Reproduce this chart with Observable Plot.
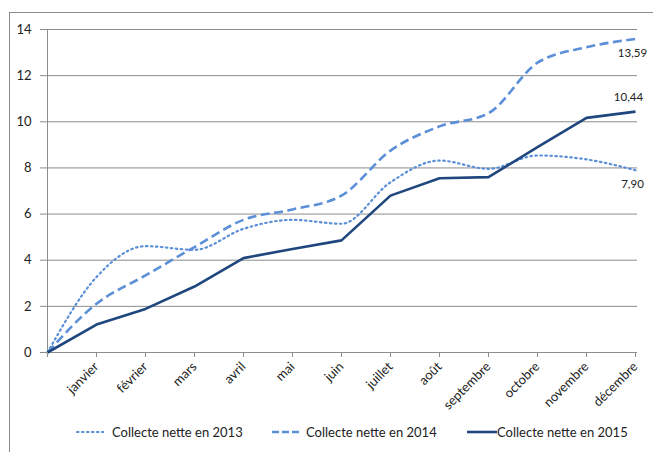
<!DOCTYPE html>
<html><head><meta charset="utf-8">
<script src="https://cdn.jsdelivr.net/npm/d3@7"></script>
<script src="https://cdn.jsdelivr.net/npm/@observablehq/plot@0.6"></script>
<style>
body{margin:0;background:#fff;font-family:Lato,"Open Sans",sans-serif;}
#wrap{position:relative;width:653px;height:452px;overflow:hidden;}
#frame{position:absolute;left:9px;top:12px;width:700px;height:500px;border-left:1px solid #8c8c8c;border-top:1px solid #8c8c8c;}
#chart{position:absolute;left:0;top:0;}
#legend{position:absolute;top:424px;left:0;width:653px;font-size:13px;color:#222;}
.item{position:absolute;display:flex;align-items:center;white-space:nowrap;}
</style></head>
<body>
<div id="wrap"><div id="frame"></div><div id="chart"></div><div id="legend"></div></div>
<script>
const months = ["", "janvier", "février", "mars", "avril", "mai", "juin", "juillet", "août", "septembre", "octobre", "novembre", "décembre"];
const s2013 = [0, 3.27, 4.61, 4.45, 5.36, 5.75, 5.58, 7.38, 8.32, 7.96, 8.54, 8.37, 7.90];
const s2014 = [0, 2.11, 3.34, 4.57, 5.75, 6.20, 6.80, 8.75, 9.80, 10.37, 12.56, 13.23, 13.59];
const s2015 = [0, 1.21, 1.89, 2.86, 4.09, 4.49, 4.86, 6.80, 7.55, 7.60, 8.90, 10.17, 10.44];
const seriesNames = ["Collecte nette en 2013", "Collecte nette en 2014", "Collecte nette en 2015"];
const yTicks = [0, 2, 4, 6, 8, 10, 12, 14];

const styles = [
  {stroke:"#5b8fd8", dash:"1.5,3.5", legendDash:"1.5,3.5", width:2.2, curve:"monotone-x", cap:"round"},
  {stroke:"#5b8fd8", dash:"9,4.5", legendDash:"7,3", width:2.6, curve:"monotone-x", cap:"butt"},
  {stroke:"#1f477e", dash:null, legendDash:null, width:2.6, curve:"linear", cap:"butt"}
];
const allSeries = [s2013, s2014, s2015];
const rows = allSeries.map((vals, k) => vals.map((v, i) => ({month: months[i], value: v, series: seriesNames[k]})));
const fmt = v => d3.format(".2f")(v).replace(".", ",");
const endLabels = allSeries.map((vals, k) => ({month: months[12], value: vals[12], series: seriesNames[k]}));
const labelDy = [14, 14, -14];

const fontFam = "Lato, 'Open Sans', sans-serif";
const marks = [
  Plot.ruleY(yTicks, {y: d => d, stroke: "#8c8c8c", strokeWidth: 1}),
  Plot.ruleX([months[0]], {x: d => d, y1: 0, y2: 14, stroke: "#8c8c8c"}),
  Plot.ruleY([0], {stroke: "#8c8c8c"}),
  ...rows.map((r, k) => Plot.line(r, {x: "month", y: "value", stroke: styles[k].stroke, strokeWidth: styles[k].width, strokeDasharray: styles[k].dash, strokeLinecap: styles[k].cap, curve: styles[k].curve})),
  ...endLabels.map((d, k) => Plot.text([d], {x: "month", y: "value", text: d => fmt(d.value), dy: labelDy[k], dx: k === 2 ? -7 : -3, textAnchor: "middle", fill: "#222", fontSize: 11.5}))
];

const chart = Plot.plot({
  width: 653, height: 415,
  marginLeft: 44, marginRight: 16, marginTop: 29, marginBottom: 63,
  style: {fontFamily: fontFam, fontSize: "13px", color: "#222", background: "transparent", overflow: "visible"},
  x: {type: "point", domain: months, padding: 0, label: null, axis: null},
  y: {domain: [0, 14], ticks: yTicks, label: null, axis: null},
  marks: [
    ...marks,
    Plot.axisY(yTicks, {tickSize: 4, tickPadding: 9, stroke: "#8c8c8c", fill: "#222", fontSize: 13, label: null}),
    Plot.axisX(months, {tickSize: 5, stroke: "#8c8c8c", fill: "#222", tickRotate: -45, tickPadding: 7, fontSize: 13, label: null, textAnchor: "end"})
  ]
});
document.getElementById("chart").appendChild(chart);

const legend = document.getElementById("legend");
const legendX = [76, 271, 466];
const swatchW = [28, 28, 31];
const gapW = [8, 7, 0];
seriesNames.forEach((n, k) => {
  const it = document.createElement("div");
  it.className = "item";
  it.style.left = legendX[k] + "px";
  const sw = swatchW[k];
  it.innerHTML = `<svg width="${sw}" height="10"><line x1="1" x2="${sw}" y1="5" y2="5" stroke="${styles[k].stroke}" stroke-width="${styles[k].width}" ${styles[k].legendDash ? `stroke-dasharray="${styles[k].legendDash}"` : ""} stroke-linecap="${styles[k].cap}"/></svg><span style="margin-left:${gapW[k]}px">${n}</span>`;
  legend.appendChild(it);
});
</script>
</body></html>
